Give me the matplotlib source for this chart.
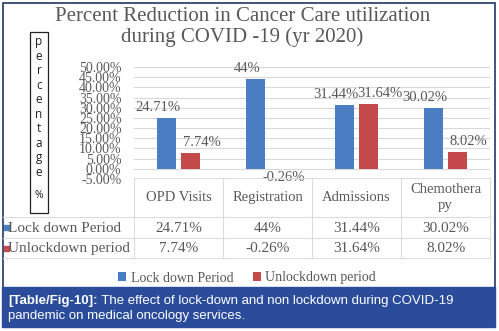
import matplotlib
matplotlib.use("Agg")
import matplotlib.pyplot as plt
from matplotlib.patches import Rectangle
from matplotlib.lines import Line2D
import matplotlib.transforms as mtransforms

# ---------------- data ----------------
categories = ["OPD Visits", "Registration", "Admissions", "Chemothera\npy"]
series_names = ["Lock down Period", "Unlockdown period"]
lockdown = [24.71, 44, 31.44, 30.02]
unlockdown = [7.74, -0.26, 31.64, 8.02]
lockdown_labels = ["24.71%", "44%", "31.44%", "30.02%"]
unlockdown_labels = ["7.74%", "-0.26%", "31.64%", "8.02%"]
yticks = [-5, 0, 5, 10, 15, 20, 25, 30, 35, 40, 45, 50]
ytick_labels = ["-5.00%", "0.00%", "5.00%", "10.00%", "15.00%", "20.00%", "25.00%",
                "30.00%", "35.00%", "40.00%", "45.00%", "50.00%"]
title = "Percent Reduction in Cancer Care utilization\nduring COVID -19 (yr 2020)"
ylabel_letters = ["p", "e", "r", "c", "e", "n", "t", "a", "g", "e"]
caption_bold = "[Table/Fig-10]:"
caption_rest = " The effect of lock-down and non lockdown during COVID-19"
caption_line2 = "pandemic on medical oncology services."

# ---------------- style ----------------
W, H = 499, 331
BLUE = "#4A7DC2"
RED = "#C3494A"
TXT = "#595959"
GRID = "#D9D9D9"
SERIF = "Liberation Serif"
SANS = "Liberation Sans"

fig = plt.figure(figsize=(W / 100, H / 100), dpi=100)
fig.patch.set_facecolor("white")

def fx(x):
    return x / W

def fy(y):
    return 1 - y / H

ax_l, ax_r, ax_t, ax_b = 134, 490, 67, 179
ax = fig.add_axes([fx(ax_l), fy(ax_b), fx(ax_r - ax_l), (ax_b - ax_t) / H])
ax.set_xlim(-0.5, len(categories) - 0.5)
ax.set_ylim(-5, 50)
for s in ax.spines.values():
    s.set_visible(False)
ax.set_xticks([])
ax.set_yticks(yticks)
ax.set_yticklabels(ytick_labels, family=SERIF, fontsize=10, color=TXT)
ax.tick_params(axis="y", length=0, pad=9)
for yt in yticks:
    ax.axhline(yt, color=GRID, lw=0.8, zorder=0)
ax.set_facecolor("none")

bw = 0.22
off = 0.137
xs = list(range(len(categories)))
b1 = ax.bar([x - off for x in xs], lockdown, width=bw, color=BLUE, zorder=2,
            label=series_names[0])
b2 = ax.bar([x + off for x in xs], unlockdown, width=bw, color=RED, zorder=2,
            label=series_names[1])

for rect, lab in zip(b1, lockdown_labels):
    ax.annotate(lab, (rect.get_x() + rect.get_width() / 2, rect.get_height()),
                xytext=(-6, 3), textcoords="offset points", ha="center", va="bottom",
                family=SERIF, fontsize=10.5, color=TXT)
for rect, v, lab in zip(b2, unlockdown, unlockdown_labels):
    if v >= 0:
        ax.annotate(lab, (rect.get_x() + rect.get_width() / 2, v),
                    xytext=(8, 3), textcoords="offset points", ha="center", va="bottom",
                    family=SERIF, fontsize=10.5, color=TXT)
    else:
        ax.annotate(lab, (rect.get_x() + rect.get_width() / 2, v),
                    xytext=(3, -1), textcoords="offset points", ha="center", va="top",
                    family=SERIF, fontsize=10.5, color=TXT)

# ---------------- title ----------------
fig.text(fx(242.5), fy(27), title, ha="center", va="center", family=SERIF,
         fontsize=15, color=TXT, linespacing=1.1)

# ---------------- y label box ----------------
fig.patches.append(Rectangle((fx(30), fy(213)), fx(18), (213 - 32) / H,
                             transform=fig.transFigure, fill=False, ec="#222222", lw=0.9))
for i, ch in enumerate(ylabel_letters):
    fig.text(fx(39), fy(42 + i * 14.5), ch, ha="center", va="center", family="Open Sans",
             fontsize=8.5, color="#222222")
fig.text(fx(39), fy(196), "%", ha="center", va="center", family="Open Sans",
         fontsize=7.5, color="#222222")

# ---------------- data table ----------------
bt = mtransforms.blended_transform_factory(ax.transData, fig.transFigure)
row_y = [178, 217, 238, 258]
lc = "#DCDCDC"
fig.lines.append(Line2D([fx(ax_l), fx(ax_r)], [fy(row_y[0])] * 2, transform=fig.transFigure,
                        color=lc, lw=0.8))
for yy in row_y[1:]:
    fig.lines.append(Line2D([fx(3), fx(ax_r)], [fy(yy)] * 2, transform=fig.transFigure,
                            color=lc, lw=0.8))
for k in range(len(categories) + 1):
    fig.lines.append(Line2D([k - 0.5, k - 0.5], [fy(row_y[0]), fy(row_y[3])], transform=bt,
                            color=lc, lw=0.8))
for i, c in enumerate(categories):
    ax.text(i, fy((row_y[0] + row_y[1]) / 2), c, transform=bt, ha="center", va="center",
            family=SERIF, fontsize=10.5, color=TXT, linespacing=1.3)
    ax.text(i, fy((row_y[1] + row_y[2]) / 2 + 0.5), lockdown_labels[i], transform=bt,
            ha="center", va="center", family=SERIF, fontsize=11, color=TXT)
    ax.text(i, fy((row_y[2] + row_y[3]) / 2 + 0.5), unlockdown_labels[i], transform=bt,
            ha="center", va="center", family=SERIF, fontsize=11, color=TXT)
for r, (name, col) in enumerate(zip(series_names, [BLUE, RED])):
    yc = (row_y[r + 1] + row_y[r + 2]) / 2
    fig.patches.append(Rectangle((fx(3.5), fy(yc + 2.5)), fx(5), 5 / H,
                                 transform=fig.transFigure, color=col))
    fig.text(fx(8.5), fy(yc + 0.5), name, ha="left", va="center", family=SERIF,
             fontsize=11, color=TXT)

# ---------------- legend ----------------
leg = fig.legend(handles=[b1, b2], labels=series_names, loc="center",
                 bbox_to_anchor=(fx(247), fy(278)), ncol=2, frameon=False,
                 handlelength=0.6, handleheight=0.6, handletextpad=0.3, columnspacing=1.4,
                 prop={"family": SERIF, "size": 10})
for t in leg.get_texts():
    t.set_color(TXT)

# ---------------- border + caption ----------------
fig.patches.append(Rectangle((fx(2.5), fy(288)), fx(492.5), (288 - 2.5) / H,
                             transform=fig.transFigure, fill=False, ec="#1F3864", lw=1.2))
fig.patches.append(Rectangle((fx(2), fy(327)), fx(493), (327 - 287) / H,
                             transform=fig.transFigure, color="#2B4C9B", zorder=5))
tb = fig.text(fx(8), fy(301), caption_bold, ha="left", va="center", family=SANS,
              fontsize=9.5, fontweight="bold", color="white", zorder=6)
fig.canvas.draw()
bb = tb.get_window_extent()
fig.text(bb.x1 / W, fy(301), caption_rest, ha="left", va="center", family=SANS,
         fontsize=9.5, color="white", zorder=6)
fig.text(fx(8), fy(316), caption_line2, ha="left", va="center", family=SANS,
         fontsize=9.5, color="white", zorder=6)

fig.savefig("out.png", dpi=100)
